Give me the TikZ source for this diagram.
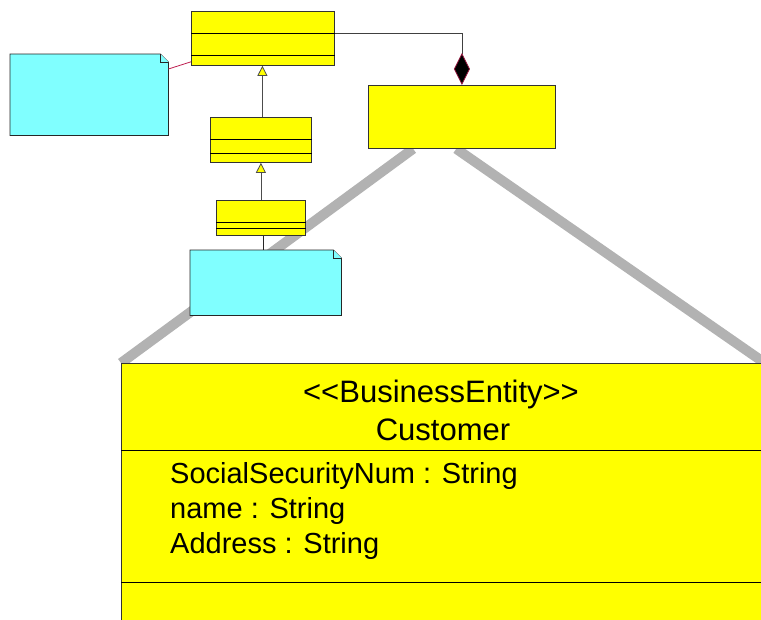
\documentclass[tikz,border=0pt]{standalone}
\usepackage{fontspec}
\setmainfont{Liberation Sans}
\usepackage{tikz}
\usetikzlibrary{positioning,arrows.meta,calc}
\definecolor{umlyellow}{RGB}{255,255,0}
\definecolor{notecyan}{RGB}{128,255,255}
\definecolor{linkred}{RGB}{190,30,80}
\definecolor{zoomgray}{RGB}{178,178,178}
\pgfdeclarelayer{background}
\pgfsetlayers{background,main}

\begin{document}
\begin{tikzpicture}[x=1pt,y=-1pt,
  cls/.style={draw=black!80,fill=umlyellow,line width=0.8pt,anchor=north west,inner sep=0pt},
  notebox/.style={anchor=north west,inner sep=0pt},
  notefill/.style={draw=black!85,fill=notecyan,line width=0.8pt},
  sep/.style={black,line width=0.8pt},
  gen/.style={draw=black!70,line width=0.8pt,-{Triangle[length=10pt,width=10pt,fill=umlyellow]}},
  comp/.style={draw=black!75,line width=0.8pt,-{Diamond[length=32pt,width=16pt,fill=black,color=linkred!80!black]}},
  zoomline/.style={draw=zoomgray,line width=10pt},
  stereo/.style={font=\fontsize{31}{37}\selectfont,anchor=base,inner sep=0pt},
  attr/.style={font=\fontsize{29}{35}\selectfont,anchor=base west,inner sep=0pt}]
\useasboundingbox (0,0) rectangle (761,619);
\clip (0,0) rectangle (761,619);

% small classes of the overview
\node[cls,minimum width=143,minimum height=54] (top) at (191,11) {};
\draw[sep] ([yshift=-22pt]top.north west) -- ([yshift=-22pt]top.north east);
\draw[sep] ([yshift=10pt]top.south west) -- ([yshift=10pt]top.south east);
\node[cls,minimum width=101,minimum height=45] (mid) at (210,117) {};
\draw[sep] ([yshift=-22pt]mid.north west) -- ([yshift=-22pt]mid.north east);
\draw[sep] ([yshift=9pt]mid.south west) -- ([yshift=9pt]mid.south east);
\node[cls,minimum width=89,minimum height=35] (low) at (216,200) {};
\draw[sep] ([yshift=-22pt]low.north west) -- ([yshift=-22pt]low.north east);
\draw[sep] ([yshift=7pt]low.south west) -- ([yshift=7pt]low.south east);
\node[cls,minimum width=187,minimum height=63] (part) at (368,85) {};

% notes
\node[notebox,minimum width=158,minimum height=81] (n1) at (10,54) {};
\filldraw[notefill] ([xshift=-8pt]n1.north east) -- (n1.north west) -- (n1.south west)
  -- (n1.south east) -- ([yshift=-8pt]n1.north east) -- cycle;
\draw[notefill] ([xshift=-8pt]n1.north east) -- ([xshift=-8pt,yshift=-8pt]n1.north east) -- ([yshift=-8pt]n1.north east);
\node[notebox,minimum width=151,minimum height=65] (n2) at (190,250) {};
\filldraw[notefill] ([xshift=-8pt]n2.north east) -- (n2.north west) -- (n2.south west)
  -- (n2.south east) -- ([yshift=-8pt]n2.north east) -- cycle;
\draw[notefill] ([xshift=-8pt]n2.north east) -- ([xshift=-8pt,yshift=-8pt]n2.north east) -- ([yshift=-8pt]n2.north east);

% connectors
\draw[gen] ([xshift=1.5pt]mid.north) -- ([xshift=1.5pt]mid.north |- top.south);
\draw[gen] (low.north) -- (low.north |- mid.south);
\draw[comp] ([yshift=-22pt]top.north east) -| (part.north);
\draw[linkred,line width=0.8pt] ([yshift=-15pt]n1.north east) -- ([yshift=4pt]top.south west);
\draw[black!85,line width=0.8pt] ([xshift=2pt]low.south) -- ([xshift=2pt]low.south |- n2.north);

% zoom into the part class
\node[cls,minimum width=643,minimum height=280] (cust) at (121,363) {};
\coordinate (zl) at ($(part.south west)!0.24!(part.south east)$);
\coordinate (zr) at ($(part.south west)!0.47!(part.south east)$);
\begin{pgfonlayer}{background}
\draw[zoomline] (zl) -- (cust.north west);
\draw[zoomline] (zr) -- (cust.north east);
\end{pgfonlayer}
\draw[sep] (121,450) -- (764,450);
\draw[sep] (121,582) -- (764,582);
\node[stereo] (st) at (441,402) {<\kern0pt<BusinessEntity>\kern0pt>};
\node[stereo] (cn) at (443,440) {Customer};
\node[attr] (a1) at (170,483) {SocialSecurityNum : String};
\node[attr] (a2) at (170,518) {name : String};
\node[attr] (a3) at (170,553) {Address : String};
\end{tikzpicture}
\end{document}
